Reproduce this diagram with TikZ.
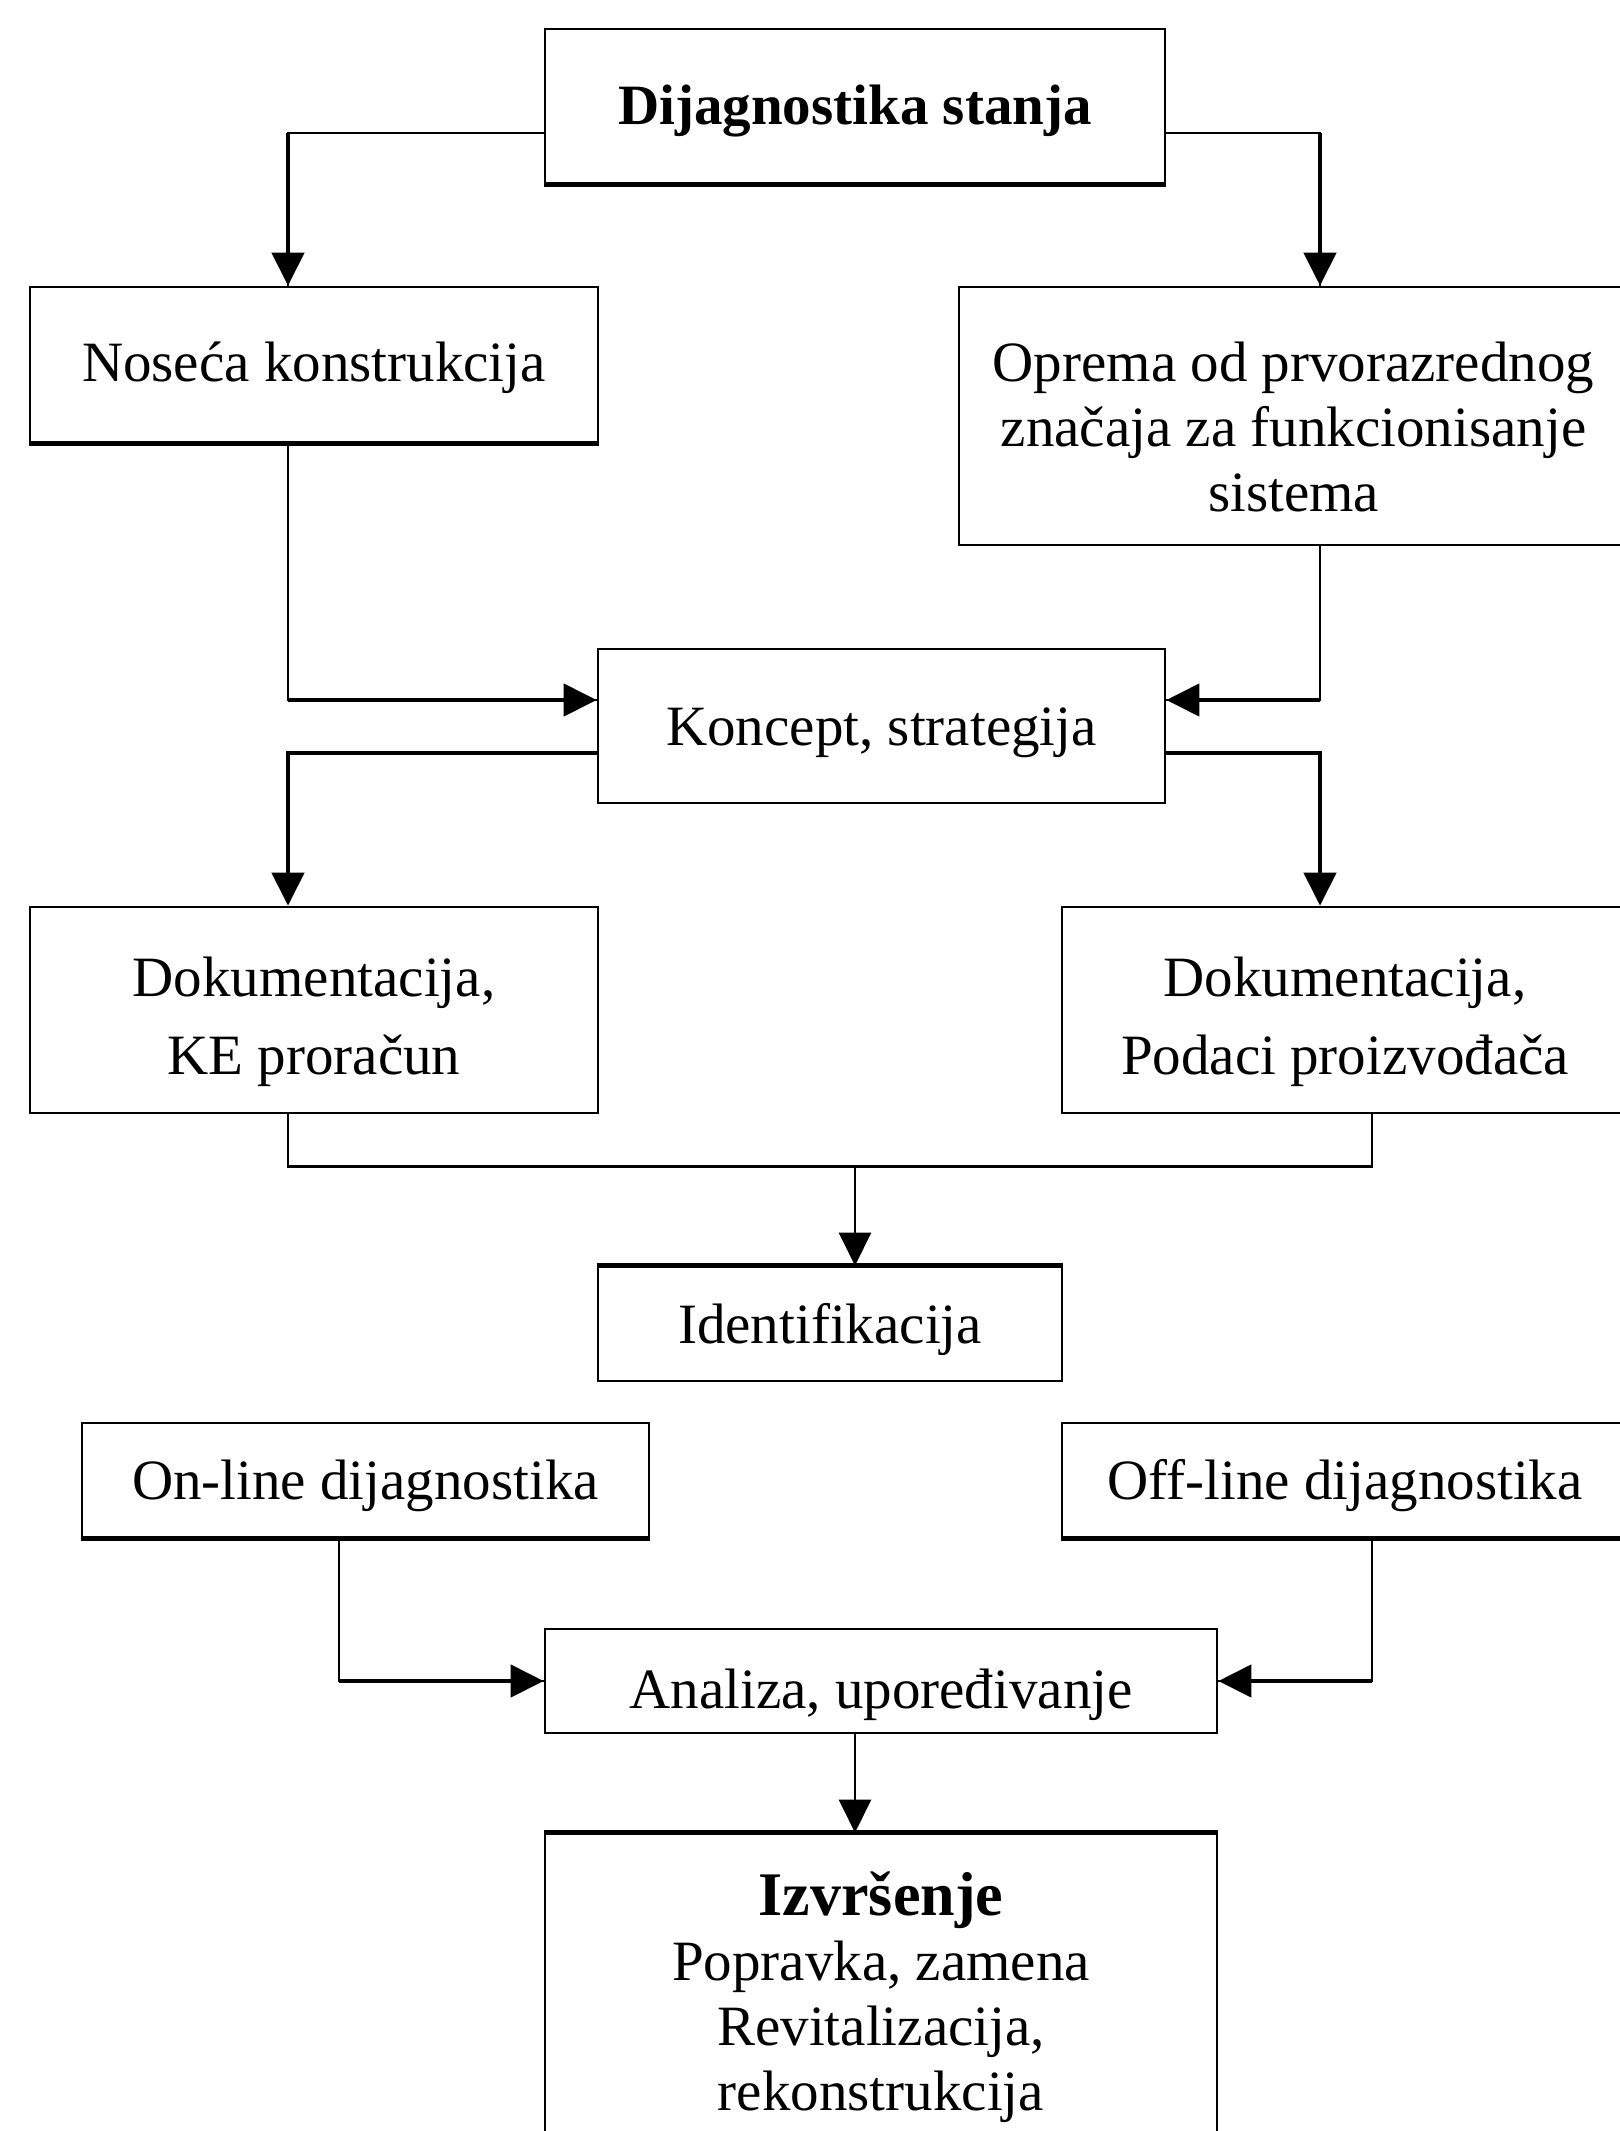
\documentclass[tikz,border=0pt]{standalone}
\usepackage{fontspec}
\setmainfont{Liberation Serif}
\usetikzlibrary{arrows.meta}
\begin{document}
\begin{tikzpicture}[x=0.5pt,y=-0.5pt,
  box/.style={draw,line width=1.35pt,rectangle,inner sep=0pt},
  txt/.style={inner sep=0pt,align=center,font=\fontsize{28.5pt}{32.5pt}\selectfont},
  txtw/.style={inner sep=0pt,align=center,font=\fontsize{28.5pt}{39pt}\selectfont},
  thinln/.style={line width=1.35pt},
  thickln/.style={line width=2.3pt},
  tip/.style={-{Triangle[length=16.5pt,width=16pt]}}
]
\useasboundingbox (0,0) rectangle (1620,2131);

% boxes
\node[box,minimum width=310pt,minimum height=77pt] (top) at (855,106) {};
\node[box,minimum width=284pt,minimum height=77.5pt] (nos) at (314,364.5) {};
\node[box,minimum width=334.5pt,minimum height=129pt] (opr) at (1293.5,416) {};
\node[box,minimum width=283.5pt,minimum height=77pt] (kon) at (881.5,726) {};
\node[box,minimum width=284pt,minimum height=103pt] (dokl) at (314,1010) {};
\node[box,minimum width=283pt,minimum height=103pt] (dokr) at (1345,1010) {};
\node[box,minimum width=232pt,minimum height=57pt] (ide) at (830,1324) {};
\node[box,minimum width=283.5pt,minimum height=57pt] (onl) at (365.5,1480) {};
\node[box,minimum width=283pt,minimum height=57pt] (off) at (1345,1480) {};
\node[box,minimum width=336pt,minimum height=52pt] (ana) at (881,1681) {};
\node[box,minimum width=336pt,minimum height=163pt] (izv) at (881,1997) {};

% texts
\node[txt] (topt) at ([yshift=-2.7pt]top.center) {\textbf{Dijagnostika stanja}};
\node[txt] (nost) at ([yshift=-1.4pt]nos.center) {Noseća konstrukcija};
\node[txt] (oprt) at ([yshift=-5.5pt]opr.center) {Oprema od prvorazrednog\\značaja za funkcionisanje\\sistema};
\node[txt] (kont) at ([yshift=-3.4pt]kon.center) {Koncept, strategija};
\node[txtw] (doklt) at ([yshift=-6pt]dokl.center) {Dokumentacija,\\KE proračun};
\node[txtw] (dokrt) at ([yshift=-6pt]dokr.center) {Dokumentacija,\\Podaci proizvođača};
\node[txt] (idet) at ([yshift=-2.7pt]ide.center) {Identifikacija};
\node[txt] (onlt) at ([yshift=-2.7pt]onl.center) {On-line dijagnostika};
\node[txt] (offt) at ([yshift=-2.7pt]off.center) {Off-line dijagnostika};
\node[txt] (anat) at ([yshift=-6.8pt]ana.center) {Analiza, upoređivanje};
\node[txt] (izvt) at (izv.center) {{\fontsize{31pt}{34pt}\selectfont\bfseries Izvršenje}\\Popravka, zamena\\Revitalizacija,\\rekonstrukcija};

% heavier box edges
\draw[thickln] (top.south west) -- (top.south east);
\draw[thickln] (nos.south west) -- (nos.south east);
\draw[thickln] (ide.north west) -- (ide.north east);
\draw[thickln] (onl.south west) -- (onl.south east);
\draw[thickln] (off.south west) -- (off.south east);
\draw[thickln] (izv.north west) -- (izv.north east);

% connector points
\coordinate (a1) at ([yshift=-13.5pt]top.west);
\coordinate (a2) at ([yshift=-13.5pt]top.east);
\coordinate (n1) at ([xshift=-13pt]nos.north);
\coordinate (o1) at ([xshift=13.25pt]opr.north);
\coordinate (n2) at ([xshift=-13pt]nos.south);
\coordinate (o2) at ([xshift=13.25pt]opr.south);
\coordinate (k1) at ([yshift=13pt]kon.west);
\coordinate (k2) at ([yshift=13pt]kon.east);
\coordinate (k3) at ([yshift=-13.5pt]kon.west);
\coordinate (k4) at ([yshift=-13.5pt]kon.east);
\coordinate (d1) at ([xshift=-13pt]dokl.north);
\coordinate (d2) at ([xshift=-12.5pt]dokr.north);
\coordinate (d3) at ([xshift=-13pt]dokl.south);
\coordinate (d4) at ([xshift=13.5pt]dokr.south);
\coordinate (mj) at ([yshift=-26pt]d3);
\coordinate (i1) at ([xshift=12.5pt]ide.north);
\coordinate (l1) at ([xshift=-13.25pt]onl.south);
\coordinate (r1) at ([xshift=13.5pt]off.south);
\coordinate (s1) at ([xshift=-13pt]ana.south);

% Dijagnostika -> Noseca / Oprema
\draw[thinln] (a1) -| (n1);
\draw[thickln,tip] (n1 |- a1) -- (n1);
\draw[thinln] (a2) -| (o1);
\draw[thickln,tip] (o1 |- a2) -- (o1);

% Noseca / Oprema -> Koncept
\draw[thinln] (n2) |- (k1);
\draw[thickln,tip] (n2 |- k1) -- (k1);
\draw[thinln] (o2) |- (k2);
\draw[thickln,tip] (o2 |- k2) -- (k2);

% Koncept -> Dokumentacija
\draw[thickln,tip] (k3) -| (d1);
\draw[thickln,tip] (k4) -| (d2);

% Dokumentacija -> Identifikacija
\draw[thinln] (d3) -- (mj) -| (d4);
\draw[thinln,tip] (mj -| i1) -- (i1);

% On-line / Off-line -> Analiza
\draw[thinln] (l1) |- (ana.west);
\draw[thickln,tip] (l1 |- ana.west) -- (ana.west);
\draw[thinln] (r1) |- (ana.east);
\draw[thickln,tip] (r1 |- ana.east) -- (ana.east);

% Analiza -> Izvrsenje
\draw[thinln,tip] (s1) -- (s1 |- izv.north);
\end{tikzpicture}
\end{document}
